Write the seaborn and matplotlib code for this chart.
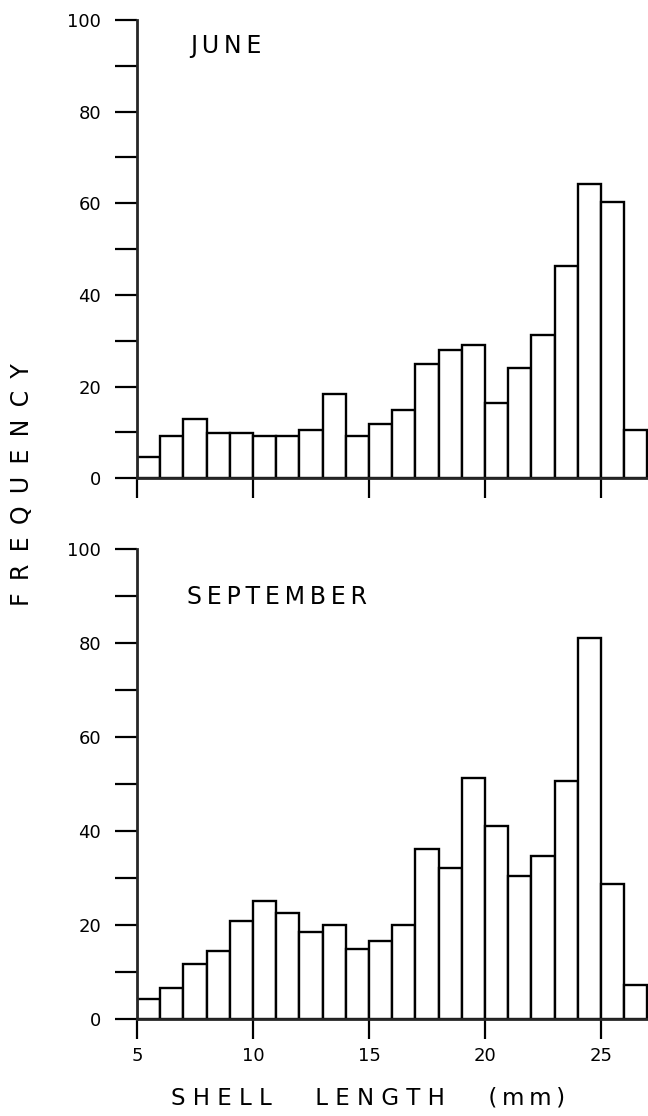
import numpy as np
import pandas as pd
import matplotlib
matplotlib.use("Agg")
import matplotlib.pyplot as plt
import seaborn as sns

# 1 mm shell-length size classes, 5-27 mm
bin_edges = list(range(5, 28))
months = ["JUNE", "SEPTEMBER"]
june_freq = [4.7, 9.3, 12.9, 9.9, 9.9, 9.2, 9.2, 10.5, 18.5, 9.2, 11.8,
             14.8, 24.9, 27.9, 29.1, 16.5, 24.1, 31.3, 46.4, 64.3, 60.2, 10.6]
sept_freq = [4.3, 6.6, 11.7, 14.4, 20.8, 25.1, 22.6, 18.4, 19.9, 14.9, 16.5,
             20.0, 36.1, 32.1, 51.3, 41.0, 30.3, 34.6, 50.6, 81.2, 28.8, 7.2]
y_ticks = list(range(0, 101, 10))
y_tick_labels = [str(v) if v % 20 == 0 else "" for v in y_ticks]
x_ticks = [5, 10, 15, 20, 25]

mids = [e + 0.5 for e in bin_edges[:-1]]
df = pd.DataFrame({
    "length": mids * 2,
    "frequency": june_freq + sept_freq,
    "month": [months[0]] * len(mids) + [months[1]] * len(mids),
})

sns.set_theme(style="ticks")
plt.rcParams["font.family"] = ["DejaVu Sans"]
plt.rcParams["axes.linewidth"] = 2.0

THIN = "\u2009"
W, H = 648, 1116
fig = plt.figure(figsize=(W / 100, H / 100), dpi=100)
fig.patch.set_facecolor("white")

x_left_px = 137
x_max = 27.03

# (top px of y=100, px of y=0) for each panel
panel_px = {"JUNE": (20.0, 478.3), "SEPTEMBER": (549.3, 1018.7)}
label_pos = {"JUNE": (190, 46), "SEPTEMBER": (187, 597)}

for i, m in enumerate(months):
    top_px, base_px = panel_px[m]
    ax = fig.add_axes([x_left_px / W, (H - base_px) / H,
                       (W - x_left_px) / W, (base_px - top_px) / H])
    sns.histplot(data=df[df["month"] == m], x="length", weights="frequency",
                 bins=bin_edges, stat="count", color="white", alpha=1,
                 edgecolor="black", linewidth=1.7, ax=ax)
    ax.set_xlim(5, x_max)
    ax.set_ylim(0, 100)
    sns.despine(ax=ax)
    ax.set_facecolor("white")
    ax.set_yticks(y_ticks)
    ax.set_yticklabels(y_tick_labels)
    ax.set_xticks(x_ticks)
    if i == 0:
        ax.set_xticklabels([])
    else:
        ax.set_xticklabels([str(v) for v in x_ticks])
    ax.tick_params(axis="y", direction="out", length=16, width=1.6,
                   pad=10, labelsize=13, colors="black")
    ax.tick_params(axis="x", direction="out", length=14.5, width=1.6,
                   pad=6, labelsize=13, colors="black")
    ax.set_xlabel("")
    ax.set_ylabel("")
    px_per_mm = (W - x_left_px) / (x_max - 5)
    ppu = (base_px - top_px) / 100
    lx, ly = label_pos[m]
    ax.text(5 + (lx - x_left_px) / px_per_mm, (base_px - ly) / ppu,
            THIN.join(m), ha="left", va="center", fontsize=17,
            color="black")

fig.text(22 / W, 1 - 485 / H, (" " + THIN).join("FREQUENCY"), rotation=90,
         ha="center", va="center", fontsize=17, color="black")
xlabel = "      ".join([" ".join("SHELL"), " ".join("LENGTH"), THIN.join("(mm)")])
fig.text(368 / W, 1 - 1098 / H, xlabel,
         ha="center", va="center", fontsize=16.5, color="black")

fig.savefig("out.png", dpi=100, facecolor="white")
